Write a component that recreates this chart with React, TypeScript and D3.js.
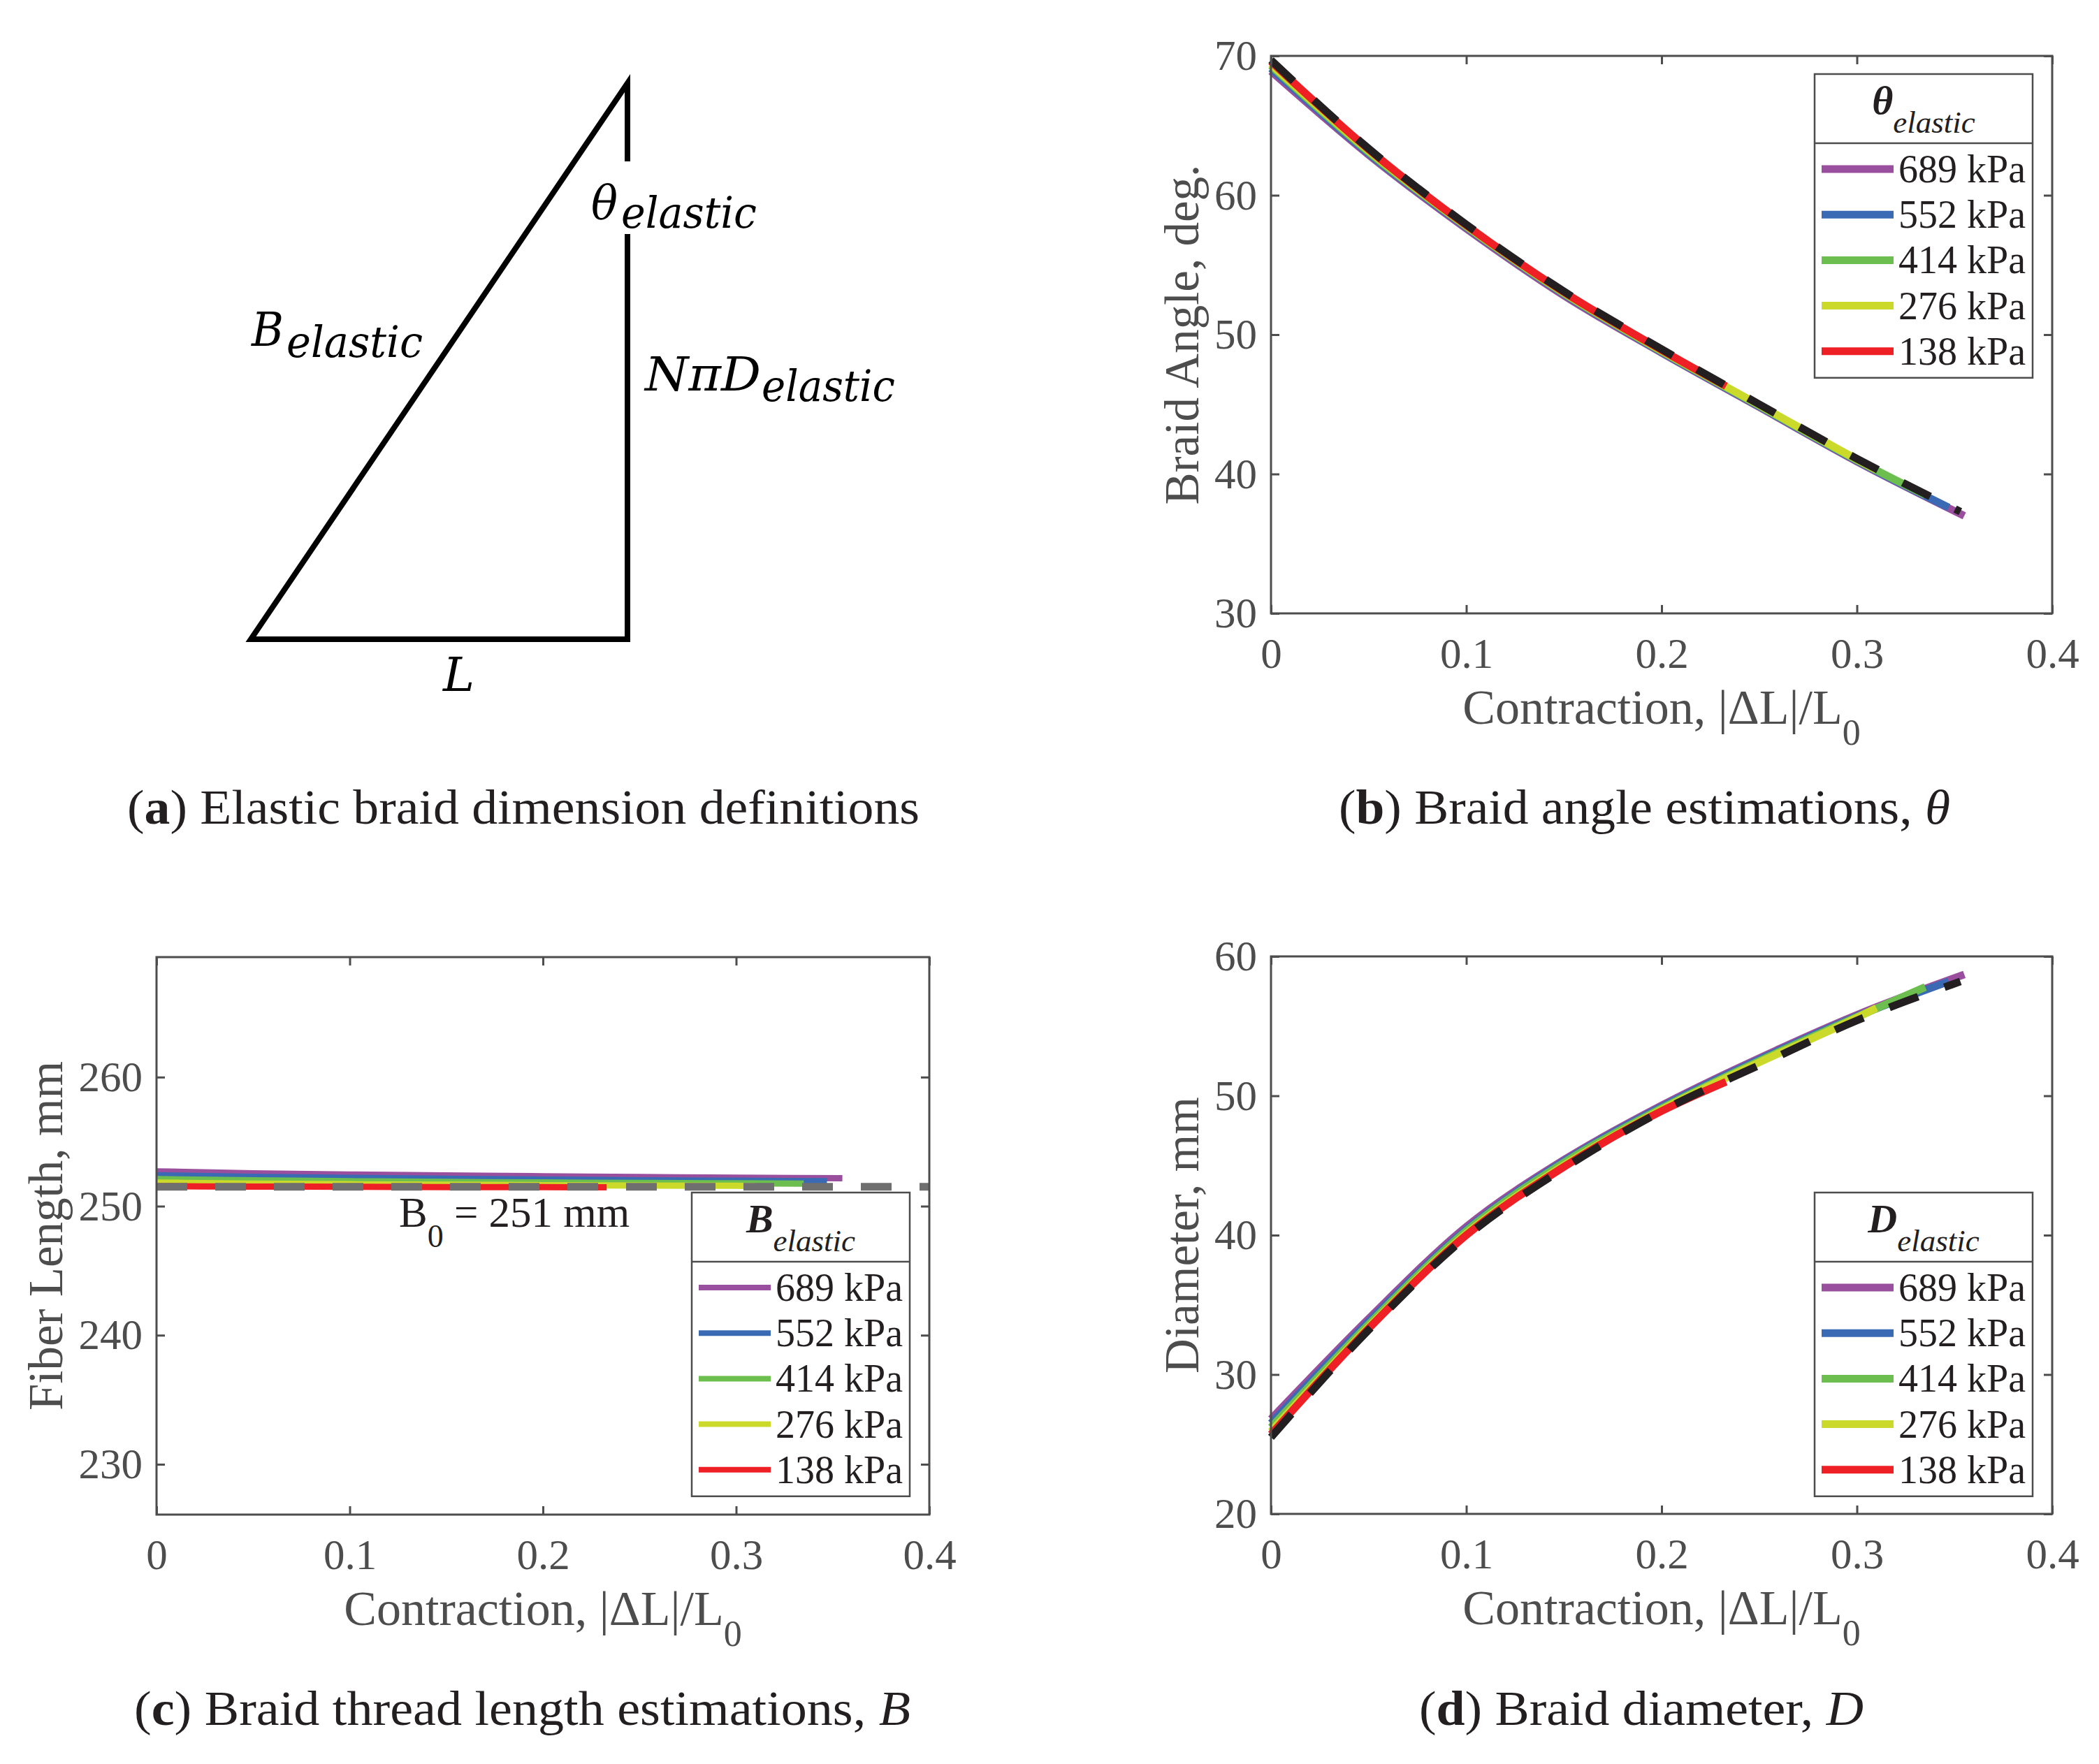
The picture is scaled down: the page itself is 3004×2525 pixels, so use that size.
import React, { useEffect, useRef } from "react";
import * as d3 from "d3";

// legend entries, top to bottom
const pressureLabels = ["689 kPa", "552 kPa", "414 kPa", "276 kPa", "138 kPa"];
const pressureColors = ["#9a4f9e", "#3a6ab4", "#6cbf4e", "#cbda2a", "#ee2025"];

const xTicks = [0, 0.1, 0.2, 0.3, 0.4];
const angleTicks = [30, 40, 50, 60, 70];
const lengthTicks = [230, 240, 250, 260];
const diameterTicks = [20, 30, 40, 50, 60];

// contraction |dL|/L0 samples, each pressure stops at its own max contraction
const x689 = [0, 0.05, 0.1, 0.15, 0.2, 0.25, 0.3, 0.355];
const x552 = [0, 0.05, 0.1, 0.15, 0.2, 0.25, 0.3, 0.347];
const x414 = [0, 0.05, 0.1, 0.15, 0.2, 0.25, 0.3, 0.335];
const x276 = [0, 0.05, 0.1, 0.15, 0.2, 0.25, 0.3, 0.31];
const x138 = [0, 0.05, 0.1, 0.15, 0.2, 0.233];
const xModel = [0, 0.05, 0.1, 0.15, 0.2, 0.25, 0.3, 0.353];
const xB0 = [0, 0.4];

// braid angle, deg
const theta689 = [68.9, 62.9, 57.6, 52.8, 48.7, 44.8, 40.9, 37.0];
const theta552 = [69.1, 63.0, 57.7, 52.9, 48.75, 44.85, 40.95, 37.6];
const theta414 = [69.3, 63.1, 57.75, 52.95, 48.8, 44.9, 41.0, 38.5];
const theta276 = [69.4, 63.2, 57.8, 53.0, 48.85, 44.95, 41.05, 40.3];
const theta138 = [69.6, 63.3, 57.85, 53.05, 48.9, 46.3];
const thetaModel = [69.7, 63.35, 57.9, 53.1, 48.96, 45.0, 41.1, 37.3];

// fiber length, mm
const fiber689 = [252.7, 252.55, 252.45, 252.38, 252.32, 252.26, 252.21, 252.16];
const fiber552 = [252.4, 252.28, 252.2, 252.12, 252.06, 252.01, 251.97, 251.94];
const fiber414 = [252.1, 252.0, 251.93, 251.88, 251.84, 251.8, 251.77, 251.75];
const fiber276 = [251.83, 251.75, 251.7, 251.66, 251.63, 251.6, 251.58, 251.57];
const fiber138 = [251.55, 251.52, 251.5, 251.48, 251.47, 251.46];
const fiberB0 = [251.5, 251.5];

// diameter, mm
const diam689 = [26.8, 34.0, 40.6, 45.4, 49.3, 52.7, 55.8, 58.7];
const diam552 = [26.5, 33.8, 40.4, 45.3, 49.2, 52.6, 55.7, 58.2];
const diam414 = [26.2, 33.6, 40.3, 45.2, 49.1, 52.5, 55.65, 57.8];
const diam276 = [25.9, 33.4, 40.1, 45.0, 49.0, 52.4, 55.6, 56.3];
const diam138 = [25.7, 33.3, 40.0, 44.9, 48.9, 51.0];
const diamModel = [25.5, 33.2, 39.9, 44.8, 48.9, 52.2, 55.4, 58.2];

const axisColor = "#4d4d4d";
const ink = "#231f20";
const serif = "'Liberation Serif', 'Times New Roman', serif";
const mathFont = "'DejaVu Serif', serif";

function drawPanel(svg, p) {
  const x = d3.scaleLinear().domain([0, 0.4]).range([p.left, p.right]);
  const y = d3.scaleLinear().domain(p.yDomain).range([p.bottom, p.top]);
  const line = d3
    .line()
    .x((d) => x(d[0]))
    .y((d) => y(d[1]))
    .curve(d3.curveMonotoneX);

  const g = svg.append("g");

  p.series.forEach((s, i) => {
    g.append("path")
      .datum(d3.zip(s.x, s.y))
      .attr("d", line)
      .attr("fill", "none")
      .attr("stroke", pressureColors[i])
      .attr("stroke-width", p.lineWidth);
  });

  g.append("path")
    .datum(d3.zip(p.model.x, p.model.y))
    .attr("d", line)
    .attr("fill", "none")
    .attr("stroke", p.model.color)
    .attr("stroke-width", 11)
    .attr("stroke-dasharray", "44 40");

  // box + inward ticks on all sides
  g.append("rect")
    .attr("x", p.left)
    .attr("y", p.top)
    .attr("width", p.right - p.left)
    .attr("height", p.bottom - p.top)
    .attr("fill", "none")
    .attr("stroke", axisColor)
    .attr("stroke-width", 3);

  const styleAxis = (a) => {
    a.select(".domain").remove();
    a.attr("color", axisColor)
      .attr("font-family", serif)
      .attr("font-size", 61);
    a.selectAll("line").attr("stroke-width", 3);
  };

  g.append("g")
    .attr("transform", `translate(0,${p.bottom})`)
    .call(d3.axisBottom(x).tickValues(xTicks).tickSize(-12).tickPadding(35).tickFormat((d) => String(d)))
    .call(styleAxis);
  g.append("g")
    .attr("transform", `translate(0,${p.top})`)
    .call(d3.axisTop(x).tickValues(xTicks).tickSize(-12).tickFormat(() => ""))
    .call(styleAxis);
  g.append("g")
    .attr("transform", `translate(${p.left},0)`)
    .call(d3.axisLeft(y).tickValues(p.yTicks).tickSize(-12).tickPadding(20).tickFormat((d) => String(d)))
    .call(styleAxis);
  g.append("g")
    .attr("transform", `translate(${p.right},0)`)
    .call(d3.axisRight(y).tickValues(p.yTicks).tickSize(-12).tickFormat(() => ""))
    .call(styleAxis);

  // axis labels
  const xl = g
    .append("text")
    .attr("x", (p.left + p.right) / 2)
    .attr("y", p.bottom + 158)
    .attr("text-anchor", "middle")
    .attr("font-family", serif)
    .attr("font-size", 70)
    .attr("fill", axisColor);
  xl.append("tspan").text("Contraction, |ΔL|/L");
  xl.append("tspan").attr("font-size", 52).attr("dy", 30).text("0");

  g.append("text")
    .attr("transform", `translate(${p.yLabelX},${(p.top + p.bottom) / 2}) rotate(-90)`)
    .attr("text-anchor", "middle")
    .attr("font-family", serif)
    .attr("font-size", 69)
    .attr("fill", axisColor)
    .text(p.yLabel);

  if (p.note) p.note(g, x, y);

  // legend
  const lx = p.legend.x;
  const ly = p.legend.y;
  const lw = 312;
  const sep = ly + 99;
  const lb = sep + 37 + 4 * 65.2 + 38;
  const lg = g.append("g");
  lg.append("rect")
    .attr("x", lx)
    .attr("y", ly)
    .attr("width", lw)
    .attr("height", lb - ly)
    .attr("fill", "#fff")
    .attr("stroke", axisColor)
    .attr("stroke-width", 2.5);
  lg.append("line")
    .attr("x1", lx)
    .attr("x2", lx + lw)
    .attr("y1", sep)
    .attr("y2", sep)
    .attr("stroke", axisColor)
    .attr("stroke-width", 2.5);

  const title = lg
    .append("text")
    .attr("x", lx + lw / 2)
    .attr("y", ly + 57)
    .attr("text-anchor", "middle")
    .attr("font-family", serif)
    .attr("fill", ink);
  title.append("tspan").attr("font-size", 58).attr("font-weight", "bold").attr("font-style", "italic").text(p.legend.title);
  title.append("tspan").attr("font-size", 45).attr("font-style", "italic").attr("dy", 27).text("elastic");

  pressureLabels.forEach((label, i) => {
    const ry = sep + 37 + i * 65.2;
    lg.append("line")
      .attr("x1", lx + 10)
      .attr("x2", lx + 113)
      .attr("y1", ry)
      .attr("y2", ry)
      .attr("stroke", pressureColors[i])
      .attr("stroke-width", p.legendLineWidth);
    lg.append("text")
      .attr("x", lx + 120)
      .attr("y", ry + 19)
      .attr("font-family", serif)
      .attr("font-size", 56)
      .attr("fill", ink)
      .text(label);
  });
}

function caption(svg, cx, cy, width, parts) {
  const t = svg
    .append("text")
    .attr("x", cx)
    .attr("y", cy)
    .attr("font-family", serif)
    .attr("font-size", 70)
    .attr("fill", ink)
    .attr("textLength", width)
    .attr("lengthAdjust", "spacingAndGlyphs");
  parts.forEach((pt) => {
    const s = t.append("tspan").text(pt.t);
    if (pt.bold) s.attr("font-weight", "bold");
    if (pt.italic) s.attr("font-style", "italic");
  });
}

function mathLabel(svg, px, py, main, mainWidth, sx, sy, subWidth) {
  svg.append("text")
    .attr("x", px)
    .attr("y", py)
    .attr("font-family", mathFont)
    .attr("font-style", "italic")
    .attr("font-size", 68)
    .attr("textLength", mainWidth)
    .attr("lengthAdjust", "spacingAndGlyphs")
    .attr("fill", "#000")
    .text(main);
  svg.append("text")
    .attr("x", sx)
    .attr("y", sy)
    .attr("font-family", mathFont)
    .attr("font-style", "italic")
    .attr("font-size", 62)
    .attr("textLength", subWidth)
    .attr("lengthAdjust", "spacingAndGlyphs")
    .attr("fill", "#000")
    .text("elastic");
}

export default function App() {
  const svgRef = useRef(null);

  useEffect(() => {
    const svg = d3.select(svgRef.current);
    svg.selectAll("*").remove();

    // (a) braid triangle, with a gap in the vertical side for the angle label
    const tri = [
      [898, 231],
      [898, 119],
      [359, 915],
      [898, 915],
      [898, 335],
    ];
    svg.append("path")
      .attr("d", d3.line()(tri))
      .attr("fill", "none")
      .attr("stroke", "#000")
      .attr("stroke-width", 8)
      .attr("stroke-linejoin", "miter")
      .attr("stroke-miterlimit", 10);

    mathLabel(svg, 846, 313, "θ", 38, 889, 326, 194);
    mathLabel(svg, 360, 495, "B", 46, 410, 511, 195);
    mathLabel(svg, 923, 559, "NπD", 166, 1090, 574, 191);
    svg.append("text")
      .attr("x", 634)
      .attr("y", 989)
      .attr("font-family", mathFont)
      .attr("font-style", "italic")
      .attr("font-size", 68)
      .attr("fill", "#000")
      .text("L");

    drawPanel(svg, {
      left: 1819, right: 2937, top: 80, bottom: 878,
      yDomain: [30, 70], yTicks: angleTicks,
      yLabel: "Braid Angle, deg.", yLabelX: 1715,
      lineWidth: 11, legendLineWidth: 11,
      series: [
        { x: x689, y: theta689 },
        { x: x552, y: theta552 },
        { x: x414, y: theta414 },
        { x: x276, y: theta276 },
        { x: x138, y: theta138 },
      ],
      model: { x: xModel, y: thetaModel, color: ink },
      legend: { x: 2597, y: 106, title: "θ" },
    });

    drawPanel(svg, {
      left: 224, right: 1330, top: 1370, bottom: 2168,
      yDomain: [226.1, 269.3], yTicks: lengthTicks,
      yLabel: "Fiber Length, mm", yLabelX: 89,
      lineWidth: 9, legendLineWidth: 8,
      series: [
        { x: x689, y: fiber689 },
        { x: x552, y: fiber552 },
        { x: x414, y: fiber414 },
        { x: x276, y: fiber276 },
        { x: x138, y: fiber138 },
      ],
      model: { x: xB0, y: fiberB0, color: "#6f6f6f" },
      legend: { x: 990, y: 1707, title: "B" },
      note: (g) => {
        const t = g.append("text")
          .attr("x", 571)
          .attr("y", 1756)
          .attr("font-family", serif)
          .attr("font-size", 61)
          .attr("fill", ink);
        t.append("tspan").text("B");
        t.append("tspan").attr("font-size", 46).attr("dy", 29).text("0");
        t.append("tspan").attr("dy", -29).text(" = 251 mm");
      },
    });

    drawPanel(svg, {
      left: 1819, right: 2937, top: 1369, bottom: 2167,
      yDomain: [20, 60], yTicks: diameterTicks,
      yLabel: "Diameter, mm", yLabelX: 1715,
      lineWidth: 11, legendLineWidth: 11,
      series: [
        { x: x689, y: diam689 },
        { x: x552, y: diam552 },
        { x: x414, y: diam414 },
        { x: x276, y: diam276 },
        { x: x138, y: diam138 },
      ],
      model: { x: xModel, y: diamModel, color: ink },
      legend: { x: 2597, y: 1707, title: "D" },
    });

    caption(svg, 182, 1179, 1134, [
      { t: "(" }, { t: "a", bold: true }, { t: ") Elastic braid dimension definitions" },
    ]);
    caption(svg, 1916, 1179, 875, [
      { t: "(" }, { t: "b", bold: true }, { t: ") Braid angle estimations, " }, { t: "θ", italic: true },
    ]);
    caption(svg, 192, 2469, 1111, [
      { t: "(" }, { t: "c", bold: true }, { t: ") Braid thread length estimations, " }, { t: "B", italic: true },
    ]);
    caption(svg, 2031, 2469, 636, [
      { t: "(" }, { t: "d", bold: true }, { t: ") Braid diameter, " }, { t: "D", italic: true },
    ]);
  }, []);

  return (
    <svg
      ref={svgRef}
      width={3004}
      height={2525}
      style={{ position: "absolute", left: 0, top: 0, background: "#fff" }}
    />
  );
}
